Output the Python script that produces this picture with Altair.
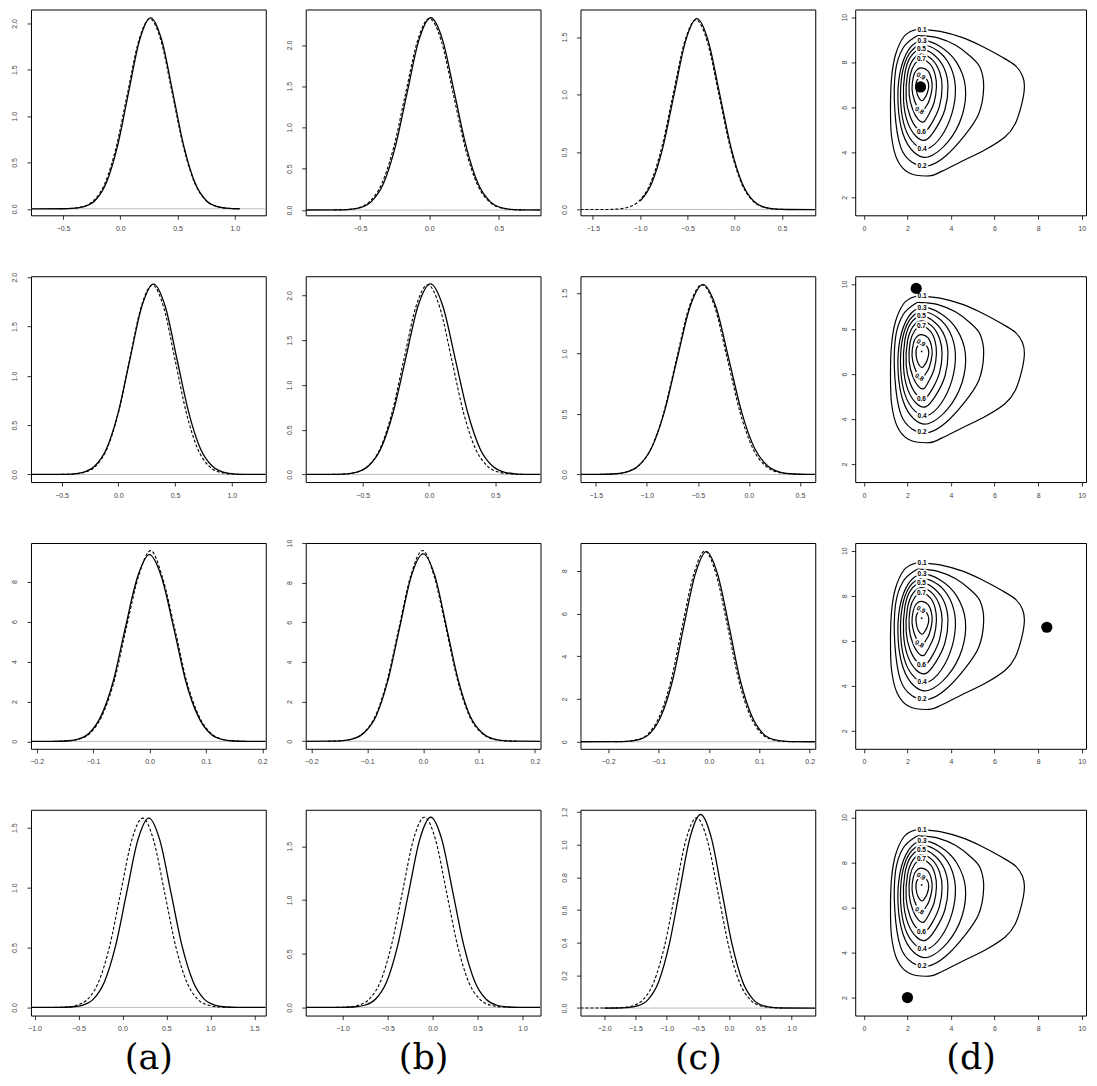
import altair as alt
import pandas as pd

# ------------------------------------------------------------------ density panels
# row 1
A1_X_DOMAIN = [-0.78, 1.27]
A1_Y_DOMAIN = [-0.07, 2.15]
A1_X_TICKS = [-0.5, 0.0, 0.5, 1.0]
A1_Y_TICKS = [0.0, 0.5, 1.0, 1.5, 2.0]
A1_SOLID_X = [-0.78, -0.511, -0.414, -0.317, -0.220, -0.123, -0.026, 0.071, 0.168, 0.265, 0.362, 0.459, 0.556, 0.653, 0.750, 0.847, 0.944, 1.041]
A1_SOLID_Y = [0.0, 0.0006, 0.0045, 0.023, 0.090, 0.279, 0.669, 1.249, 1.818, 2.06, 1.818, 1.249, 0.669, 0.279, 0.090, 0.023, 0.0045, 0.0006]
A1_DASH_X = [-0.526, -0.428, -0.330, -0.232, -0.134, -0.036, 0.062, 0.160, 0.258, 0.356, 0.454, 0.552, 0.650, 0.748, 0.846, 0.944, 1.042]
A1_DASH_Y = [0.0006, 0.0045, 0.023, 0.090, 0.277, 0.666, 1.243, 1.809, 2.05, 1.809, 1.243, 0.666, 0.277, 0.090, 0.023, 0.0045, 0.0006]

B1_X_DOMAIN = [-0.89, 0.80]
B1_Y_DOMAIN = [-0.064, 2.43]
B1_X_TICKS = [-0.5, 0.0, 0.5]
B1_Y_TICKS = [0.0, 0.5, 1.0, 1.5, 2.0]
B1_SOLID_X = [-0.89, -0.674, -0.589, -0.503, -0.418, -0.332, -0.247, -0.161, -0.076, 0.010, 0.096, 0.181, 0.267, 0.352, 0.438, 0.523, 0.609, 0.694, 0.80]
B1_SOLID_Y = [0.0, 0.0007, 0.005, 0.026, 0.102, 0.315, 0.757, 1.413, 2.056, 2.33, 2.056, 1.413, 0.757, 0.315, 0.102, 0.026, 0.005, 0.0007, 0.0]
B1_DASH_X = [-0.688, -0.602, -0.516, -0.430, -0.344, -0.258, -0.172, -0.086, 0.0, 0.086, 0.172, 0.258, 0.344, 0.430, 0.516, 0.602, 0.688]
B1_DASH_Y = [0.0007, 0.005, 0.026, 0.102, 0.314, 0.753, 1.407, 2.047, 2.32, 2.047, 1.407, 0.753, 0.314, 0.102, 0.026, 0.005, 0.0007]

C1_X_DOMAIN = [-1.63, 0.85]
C1_Y_DOMAIN = [-0.05, 1.74]
C1_X_TICKS = [-1.5, -1.0, -0.5, 0.0, 0.5]
C1_Y_TICKS = [0.0, 0.5, 1.0, 1.5]
C1_SOLID_X = [-1.00, -0.88, -0.76, -0.64, -0.52, -0.40, -0.28, -0.16, -0.04, 0.08, 0.20, 0.32, 0.44, 0.56, 0.85]
C1_SOLID_Y = [0.073, 0.225, 0.539, 1.007, 1.465, 1.66, 1.465, 1.007, 0.539, 0.225, 0.073, 0.018, 0.0037, 0.0005, 0.0]
C1_DASH_X = [-1.63, -1.378, -1.257, -1.136, -1.015, -0.894, -0.773, -0.652, -0.531, -0.410, -0.289, -0.168, -0.047, 0.074, 0.195, 0.316, 0.437, 0.558]
C1_DASH_Y = [0.0, 0.0005, 0.0036, 0.018, 0.072, 0.223, 0.536, 1.001, 1.456, 1.65, 1.456, 1.001, 0.536, 0.223, 0.072, 0.018, 0.0036, 0.0005]

# row 2
A2_X_DOMAIN = [-0.77, 1.30]
A2_Y_DOMAIN = [-0.077, 2.01]
A2_X_TICKS = [-0.5, 0.0, 0.5, 1.0]
A2_Y_TICKS = [0.0, 0.5, 1.0, 1.5, 2.0]
A2_SOLID_X = [-0.77, -0.518, -0.415, -0.311, -0.208, -0.104, -0.001, 0.103, 0.207, 0.310, 0.414, 0.517, 0.621, 0.724, 0.828, 0.931, 1.035, 1.138, 1.30]
A2_SOLID_Y = [0.0, 0.0006, 0.0042, 0.021, 0.085, 0.261, 0.627, 1.171, 1.703, 1.93, 1.703, 1.171, 0.627, 0.261, 0.085, 0.021, 0.0042, 0.0006, 0.0]
A2_DASH_X = [-0.50, -0.40, -0.30, -0.20, -0.10, 0.00, 0.10, 0.20, 0.30, 0.40, 0.50, 0.60, 0.70, 0.80, 0.90, 1.00, 1.10]
A2_DASH_Y = [0.0006, 0.0042, 0.021, 0.084, 0.260, 0.623, 1.164, 1.694, 1.92, 1.694, 1.164, 0.623, 0.260, 0.084, 0.021, 0.0042, 0.0006]

B2_X_DOMAIN = [-0.93, 0.84]
B2_Y_DOMAIN = [-0.085, 2.215]
B2_X_TICKS = [-0.5, 0.0, 0.5]
B2_Y_TICKS = [0.0, 0.5, 1.0, 1.5, 2.0]
B2_SOLID_X = [-0.93, -0.738, -0.645, -0.551, -0.458, -0.364, -0.271, -0.177, -0.084, 0.010, 0.104, 0.197, 0.291, 0.384, 0.478, 0.571, 0.665, 0.758, 0.84]
B2_SOLID_Y = [0.0, 0.0006, 0.0047, 0.024, 0.094, 0.288, 0.692, 1.292, 1.880, 2.13, 1.880, 1.292, 0.692, 0.288, 0.094, 0.024, 0.0047, 0.0006, 0.0]
B2_DASH_X = [-0.73, -0.64, -0.55, -0.46, -0.37, -0.28, -0.19, -0.10, -0.01, 0.08, 0.17, 0.26, 0.35, 0.44, 0.53, 0.62, 0.71]
B2_DASH_Y = [0.0006, 0.0047, 0.024, 0.093, 0.287, 0.688, 1.286, 1.871, 2.12, 1.871, 1.286, 0.688, 0.287, 0.093, 0.024, 0.0047, 0.0006]

C2_X_DOMAIN = [-1.65, 0.65]
C2_Y_DOMAIN = [-0.063, 1.64]
C2_X_TICKS = [-1.5, -1.0, -0.5, 0.0, 0.5]
C2_Y_TICKS = [0.0, 0.5, 1.0, 1.5]
C2_SOLID_X = [-1.65, -1.466, -1.339, -1.212, -1.085, -0.958, -0.831, -0.704, -0.577, -0.450, -0.323, -0.196, -0.069, 0.058, 0.185, 0.312, 0.439, 0.566, 0.65]
C2_SOLID_Y = [0.0, 0.0005, 0.0035, 0.017, 0.069, 0.212, 0.510, 0.952, 1.386, 1.57, 1.386, 0.952, 0.510, 0.212, 0.069, 0.017, 0.0035, 0.0005, 0.0]
C2_DASH_X = [-1.460, -1.335, -1.210, -1.085, -0.960, -0.835, -0.710, -0.585, -0.460, -0.335, -0.210, -0.085, 0.040, 0.165, 0.290, 0.415, 0.540]
C2_DASH_Y = [0.0005, 0.0035, 0.017, 0.069, 0.212, 0.510, 0.952, 1.386, 1.57, 1.386, 0.952, 0.510, 0.212, 0.069, 0.017, 0.0035, 0.0005]

# row 3
A3_X_DOMAIN = [-0.21, 0.206]
A3_Y_DOMAIN = [-0.37, 9.93]
A3_X_TICKS = [-0.2, -0.1, 0.0, 0.1, 0.2]
A3_Y_TICKS = [0, 2, 4, 6, 8]
A3_SOLID_X = [-0.21, -0.171, -0.150, -0.128, -0.107, -0.086, -0.064, -0.043, -0.021, 0.0, 0.021, 0.043, 0.064, 0.086, 0.107, 0.128, 0.150, 0.171, 0.206]
A3_SOLID_Y = [0.0, 0.003, 0.021, 0.104, 0.410, 1.265, 3.036, 5.671, 8.251, 9.35, 8.251, 5.671, 3.036, 1.265, 0.410, 0.104, 0.021, 0.003, 0.0]
A3_DASH_X = [-0.169, -0.148, -0.126, -0.105, -0.084, -0.062, -0.041, -0.019, 0.002, 0.023, 0.045, 0.066, 0.088, 0.109, 0.130, 0.152, 0.173]
A3_DASH_Y = [0.003, 0.021, 0.106, 0.42, 1.29, 3.08, 5.70, 8.30, 9.55, 8.20, 5.62, 3.00, 1.25, 0.40, 0.10, 0.02, 0.003]

B3_X_DOMAIN = [-0.21, 0.21]
B3_Y_DOMAIN = [-0.38, 10.0]
B3_X_TICKS = [-0.2, -0.1, 0.0, 0.1, 0.2]
B3_Y_TICKS = [0, 2, 4, 6, 8, 10]
B3_SOLID_X = [-0.21, -0.169, -0.148, -0.127, -0.106, -0.084, -0.063, -0.042, -0.021, 0.0, 0.021, 0.042, 0.063, 0.084, 0.106, 0.127, 0.148, 0.169, 0.21]
B3_SOLID_Y = [0.0, 0.003, 0.021, 0.105, 0.415, 1.279, 3.068, 5.731, 8.340, 9.45, 8.340, 5.731, 3.068, 1.279, 0.415, 0.105, 0.021, 0.003, 0.0]
B3_DASH_X = [-0.170, -0.149, -0.128, -0.107, -0.085, -0.064, -0.043, -0.022, -0.001, 0.020, 0.041, 0.062, 0.083, 0.105, 0.126, 0.147, 0.168]
B3_DASH_Y = [0.003, 0.021, 0.106, 0.42, 1.30, 3.10, 5.76, 8.36, 9.62, 8.30, 5.70, 3.04, 1.26, 0.41, 0.10, 0.02, 0.003]

C3_X_DOMAIN = [-0.255, 0.211]
C3_Y_DOMAIN = [-0.33, 9.3]
C3_X_TICKS = [-0.2, -0.1, 0.0, 0.1, 0.2]
C3_Y_TICKS = [0, 2, 4, 6, 8]
C3_SOLID_X = [-0.255, -0.184, -0.162, -0.139, -0.117, -0.095, -0.072, -0.050, -0.027, -0.005, 0.017, 0.040, 0.062, 0.085, 0.107, 0.129, 0.152, 0.174, 0.211]
C3_SOLID_Y = [0.0, 0.003, 0.020, 0.099, 0.391, 1.204, 2.890, 5.398, 7.854, 8.9, 7.854, 5.398, 2.890, 1.204, 0.391, 0.099, 0.020, 0.003, 0.0]
C3_DASH_X = [-0.187, -0.165, -0.142, -0.120, -0.098, -0.075, -0.053, -0.030, -0.008, 0.014, 0.037, 0.059, 0.082, 0.104, 0.126, 0.149, 0.171]
C3_DASH_Y = [0.003, 0.020, 0.099, 0.391, 1.204, 2.890, 5.398, 7.854, 8.92, 7.854, 5.398, 2.890, 1.204, 0.391, 0.099, 0.020, 0.003]

# row 4
A4_X_DOMAIN = [-1.04, 1.63]
A4_Y_DOMAIN = [-0.068, 1.65]
A4_X_TICKS = [-1.0, -0.5, 0.0, 0.5, 1.0, 1.5]
A4_Y_TICKS = [0.0, 0.5, 1.0, 1.5]
A4_SOLID_X = [-1.04, -0.708, -0.582, -0.456, -0.330, -0.204, -0.078, 0.048, 0.174, 0.300, 0.426, 0.552, 0.678, 0.804, 0.930, 1.056, 1.182, 1.308, 1.63]
A4_SOLID_Y = [0.0, 0.0005, 0.0035, 0.018, 0.069, 0.214, 0.513, 0.958, 1.394, 1.58, 1.394, 0.958, 0.513, 0.214, 0.069, 0.018, 0.0035, 0.0005, 0.0]
A4_DASH_X = [-0.770, -0.645, -0.520, -0.395, -0.270, -0.145, -0.020, 0.105, 0.230, 0.355, 0.480, 0.605, 0.730, 0.855, 0.980, 1.105, 1.230]
A4_DASH_Y = [0.0005, 0.0035, 0.018, 0.069, 0.214, 0.513, 0.958, 1.394, 1.58, 1.394, 0.958, 0.513, 0.214, 0.069, 0.018, 0.0035, 0.0005]

B4_X_DOMAIN = [-1.41, 1.20]
B4_Y_DOMAIN = [-0.076, 1.84]
B4_X_TICKS = [-1.0, -0.5, 0.0, 0.5, 1.0]
B4_Y_TICKS = [0.0, 0.5, 1.0, 1.5]
B4_SOLID_X = [-1.41, -1.000, -0.878, -0.755, -0.633, -0.510, -0.388, -0.265, -0.143, -0.020, 0.103, 0.225, 0.348, 0.470, 0.593, 0.715, 0.838, 0.960, 1.20]
B4_SOLID_Y = [0.0, 0.0005, 0.0039, 0.020, 0.078, 0.239, 0.575, 1.074, 1.562, 1.77, 1.562, 1.074, 0.575, 0.239, 0.078, 0.020, 0.0039, 0.0005, 0.0]
B4_DASH_X = [-1.070, -0.948, -0.825, -0.703, -0.580, -0.458, -0.335, -0.213, -0.090, 0.033, 0.155, 0.278, 0.400, 0.523, 0.645, 0.768, 0.890]
B4_DASH_Y = [0.0005, 0.0039, 0.020, 0.078, 0.239, 0.575, 1.074, 1.562, 1.77, 1.562, 1.074, 0.575, 0.239, 0.078, 0.020, 0.0039, 0.0005]

C4_X_DOMAIN = [-2.38, 1.38]
C4_Y_DOMAIN = [-0.046, 1.214]
C4_X_TICKS = [-2.0, -1.5, -1.0, -0.5, 0.0, 0.5, 1.0]
C4_Y_TICKS = [0.0, 0.2, 0.4, 0.6, 0.8, 1.0, 1.2]
C4_SOLID_X = [-2.00, -1.803, -1.635, -1.466, -1.298, -1.129, -0.961, -0.792, -0.624, -0.455, -0.287, -0.118, 0.051, 0.219, 0.388, 0.556, 0.725, 0.893, 1.38]
C4_SOLID_Y = [0.0, 0.0004, 0.0026, 0.013, 0.052, 0.160, 0.385, 0.719, 1.046, 1.185, 1.046, 0.719, 0.385, 0.160, 0.052, 0.013, 0.0026, 0.0004, 0.0]
C4_DASH_X = [-2.38, -1.892, -1.721, -1.549, -1.378, -1.206, -1.035, -0.863, -0.692, -0.520, -0.349, -0.177, -0.006, 0.166, 0.338, 0.509, 0.681, 0.852]
C4_DASH_Y = [0.0, 0.0003, 0.0026, 0.013, 0.051, 0.158, 0.378, 0.707, 1.028, 1.165, 1.028, 0.707, 0.378, 0.158, 0.051, 0.013, 0.0026, 0.0003]

# ------------------------------------------------------------------ contour panels
D_X_DOMAIN = [-0.4, 10.2]
D_Y_DOMAIN = [1.2, 10.34]
D_X_TICKS = [0, 2, 4, 6, 8, 10]
D_Y_TICKS = [2, 4, 6, 8, 10]

LEVEL_01_X = [2.67, 3.50, 4.50, 5.40, 6.30, 6.95, 7.28, 7.37, 7.25, 6.95, 6.49, 5.57, 4.50, 3.59, 3.00, 2.06, 1.53, 1.27, 1.22, 1.27, 1.45, 1.83, 2.29]
LEVEL_01_Y = [9.45, 9.37, 9.10, 8.72, 8.25, 7.85, 7.40, 6.90, 6.15, 5.27, 4.69, 4.11, 3.60, 3.16, 2.95, 3.09, 3.67, 4.69, 6.00, 7.31, 8.33, 9.13, 9.42]
LEVEL_02_X = [2.65, 3.40, 4.20, 4.90, 5.34, 5.50, 5.27, 4.58, 3.74, 3.00, 2.21, 1.68, 1.42, 1.45, 1.79, 2.37]
LEVEL_02_Y = [9.17, 9.08, 8.76, 8.25, 7.75, 6.87, 5.70, 4.69, 3.82, 3.41, 3.56, 4.25, 5.85, 7.60, 8.62, 9.13]
LEVEL_03_X = [2.65, 3.50, 4.25, 4.66, 4.50, 3.85, 2.95, 2.30, 1.80, 1.57, 1.65, 2.05]
LEVEL_03_Y = [8.95, 8.70, 8.00, 6.90, 5.60, 4.45, 3.79, 4.00, 4.80, 6.10, 7.50, 8.55]
LEVEL_04_X = [2.65, 3.40, 3.95, 4.20, 4.05, 3.55, 2.90, 2.35, 1.90, 1.69, 1.76, 2.10]
LEVEL_04_Y = [8.76, 8.50, 7.85, 6.90, 5.75, 4.70, 4.15, 4.35, 5.05, 6.20, 7.50, 8.40]
LEVEL_05_X = [2.65, 3.25, 3.70, 3.86, 3.72, 3.30, 2.85, 2.40, 2.00, 1.82, 1.88, 2.15]
LEVEL_05_Y = [8.57, 8.30, 7.70, 6.90, 5.90, 5.05, 4.55, 4.70, 5.35, 6.30, 7.50, 8.25]
LEVEL_06_X = [2.65, 3.15, 3.48, 3.59, 3.47, 3.15, 2.80, 2.45, 2.12, 1.94, 2.00, 2.25]
LEVEL_06_Y = [8.36, 8.10, 7.55, 6.90, 6.05, 5.35, 4.91, 5.05, 5.60, 6.40, 7.45, 8.10]
LEVEL_07_X = [2.65, 3.05, 3.27, 3.33, 3.22, 2.98, 2.75, 2.50, 2.24, 2.08, 2.12, 2.33]
LEVEL_07_Y = [8.14, 7.90, 7.45, 6.90, 6.20, 5.68, 5.35, 5.45, 5.90, 6.55, 7.40, 7.92]
LEVEL_08_X = [2.65, 2.95, 3.10, 3.13, 3.00, 2.83, 2.70, 2.50, 2.32, 2.21, 2.27, 2.42]
LEVEL_08_Y = [7.75, 7.60, 7.25, 6.85, 6.30, 6.00, 5.85, 5.95, 6.30, 6.80, 7.35, 7.65]
LEVEL_09_X = [2.65, 2.88, 2.98, 2.90, 2.75, 2.65, 2.50, 2.40, 2.42]
LEVEL_09_Y = [7.38, 7.25, 6.95, 6.60, 6.35, 6.29, 6.45, 6.80, 7.15]

LABEL_TEXT = ["0.1", "0.3", "0.5", "0.7", "0.9", "0.8", "0.6", "0.4", "0.2"]
LABEL_X = [2.67, 2.67, 2.64, 2.64, 2.62, 2.55, 2.64, 2.67, 2.67]
LABEL_Y = [9.45, 8.95, 8.57, 8.14, 7.38, 5.85, 4.91, 4.15, 3.41]
LABEL_ANGLE = [0, 0, 0, 0, 30, 30, 0, 0, 0]

MODE_X = [2.65]
MODE_Y = [7.0]

POINT_X = [2.6, 2.4, 8.4, 2.0]
POINT_Y = [6.9, 9.8, 6.6, 2.0]

PANEL_TITLES = ["(a)", "(b)", "(c)", "(d)"]

# ------------------------------------------------------------------ building
W_DENS, W_CONT, H = 235, 231, 206


def line_df(xs, ys):
    return pd.DataFrame({"x": xs, "y": ys, "i": list(range(len(xs)))})


def density_panel(xdom, ydom, xticks, yticks, sx, sy, dx, dy, yfmt, title=None):
    xsc = alt.Scale(domain=xdom, nice=False, zero=False)
    ysc = alt.Scale(domain=ydom, nice=False, zero=False)
    xax = alt.Axis(values=xticks, format=".1f", title=title)
    yax = alt.Axis(values=yticks, format=yfmt, title=None)
    zero = alt.Chart(pd.DataFrame({"y": [0.0]})).mark_rule(
        color="#bdbdbd", strokeWidth=1
    ).encode(y=alt.Y("y:Q", scale=ysc, axis=yax))
    solid = alt.Chart(line_df(sx, sy)).mark_line(
        color="black", strokeWidth=1.3, interpolate="monotone", clip=True
    ).encode(
        x=alt.X("x:Q", scale=xsc, axis=xax),
        y=alt.Y("y:Q", scale=ysc, axis=yax),
        order="i:Q",
    )
    dashed = alt.Chart(line_df(dx, dy)).mark_line(
        color="black", strokeWidth=1.1, strokeDash=[3, 2], interpolate="monotone", clip=True
    ).encode(
        x=alt.X("x:Q", scale=xsc, axis=xax),
        y=alt.Y("y:Q", scale=ysc, axis=yax),
        order="i:Q",
    )
    return alt.layer(zero, solid, dashed).properties(width=W_DENS, height=H)


level_lists = [
    ("0.1", LEVEL_01_X, LEVEL_01_Y), ("0.2", LEVEL_02_X, LEVEL_02_Y),
    ("0.3", LEVEL_03_X, LEVEL_03_Y), ("0.4", LEVEL_04_X, LEVEL_04_Y),
    ("0.5", LEVEL_05_X, LEVEL_05_Y), ("0.6", LEVEL_06_X, LEVEL_06_Y),
    ("0.7", LEVEL_07_X, LEVEL_07_Y), ("0.8", LEVEL_08_X, LEVEL_08_Y),
    ("0.9", LEVEL_09_X, LEVEL_09_Y),
]
rows = []
for lev, xs, ys in level_lists:
    for i, (x, y) in enumerate(zip(xs, ys)):
        rows.append({"level": lev, "i": i, "x": x, "y": y})
contour_df = pd.DataFrame(rows)
label_df = pd.DataFrame({"t": LABEL_TEXT, "x": LABEL_X, "y": LABEL_Y, "ang": LABEL_ANGLE})
mode_df = pd.DataFrame({"x": MODE_X, "y": MODE_Y})


def contour_panel(k, title=None):
    xsc = alt.Scale(domain=D_X_DOMAIN, nice=False, zero=False)
    ysc = alt.Scale(domain=D_Y_DOMAIN, nice=False, zero=False)
    xax = alt.Axis(values=D_X_TICKS, format="d", title=title)
    yax = alt.Axis(values=D_Y_TICKS, format="d", title=None, labelPadding=4)
    X = alt.X("x:Q", scale=xsc, axis=xax)
    Y = alt.Y("y:Q", scale=ysc, axis=yax)
    lines = alt.Chart(contour_df).mark_line(
        color="black", strokeWidth=1.2, interpolate="cardinal-closed"
    ).encode(x=X, y=Y, detail="level:N", order="i:Q")
    halo = alt.Chart(label_df).mark_text(
        font="Liberation Sans", fontSize=6.5, fontWeight="bold", color="white",
        stroke="white", strokeWidth=3.5
    ).encode(x=X, y=Y, text="t:N", angle=alt.Angle("ang:Q", scale=None))
    text = alt.Chart(label_df).mark_text(
        font="Liberation Sans", fontSize=6.5, fontWeight="bold", color="black"
    ).encode(x=X, y=Y, text="t:N", angle=alt.Angle("ang:Q", scale=None))
    mode = alt.Chart(mode_df).mark_circle(size=3, color="black", opacity=1).encode(x=X, y=Y)
    pt = alt.Chart(pd.DataFrame({"x": [POINT_X[k]], "y": [POINT_Y[k]]})).mark_circle(
        size=125, color="black", opacity=1
    ).encode(x=X, y=Y)
    return alt.layer(lines, halo, text, mode, pt).properties(width=W_CONT, height=H)


panels = [
    density_panel(A1_X_DOMAIN, A1_Y_DOMAIN, A1_X_TICKS, A1_Y_TICKS, A1_SOLID_X, A1_SOLID_Y, A1_DASH_X, A1_DASH_Y, ".1f"),
    density_panel(B1_X_DOMAIN, B1_Y_DOMAIN, B1_X_TICKS, B1_Y_TICKS, B1_SOLID_X, B1_SOLID_Y, B1_DASH_X, B1_DASH_Y, ".1f"),
    density_panel(C1_X_DOMAIN, C1_Y_DOMAIN, C1_X_TICKS, C1_Y_TICKS, C1_SOLID_X, C1_SOLID_Y, C1_DASH_X, C1_DASH_Y, ".1f"),
    contour_panel(0),
    density_panel(A2_X_DOMAIN, A2_Y_DOMAIN, A2_X_TICKS, A2_Y_TICKS, A2_SOLID_X, A2_SOLID_Y, A2_DASH_X, A2_DASH_Y, ".1f"),
    density_panel(B2_X_DOMAIN, B2_Y_DOMAIN, B2_X_TICKS, B2_Y_TICKS, B2_SOLID_X, B2_SOLID_Y, B2_DASH_X, B2_DASH_Y, ".1f"),
    density_panel(C2_X_DOMAIN, C2_Y_DOMAIN, C2_X_TICKS, C2_Y_TICKS, C2_SOLID_X, C2_SOLID_Y, C2_DASH_X, C2_DASH_Y, ".1f"),
    contour_panel(1),
    density_panel(A3_X_DOMAIN, A3_Y_DOMAIN, A3_X_TICKS, A3_Y_TICKS, A3_SOLID_X, A3_SOLID_Y, A3_DASH_X, A3_DASH_Y, "d"),
    density_panel(B3_X_DOMAIN, B3_Y_DOMAIN, B3_X_TICKS, B3_Y_TICKS, B3_SOLID_X, B3_SOLID_Y, B3_DASH_X, B3_DASH_Y, "d"),
    density_panel(C3_X_DOMAIN, C3_Y_DOMAIN, C3_X_TICKS, C3_Y_TICKS, C3_SOLID_X, C3_SOLID_Y, C3_DASH_X, C3_DASH_Y, "d"),
    contour_panel(2),
    density_panel(A4_X_DOMAIN, A4_Y_DOMAIN, A4_X_TICKS, A4_Y_TICKS, A4_SOLID_X, A4_SOLID_Y, A4_DASH_X, A4_DASH_Y, ".1f", PANEL_TITLES[0]),
    density_panel(B4_X_DOMAIN, B4_Y_DOMAIN, B4_X_TICKS, B4_Y_TICKS, B4_SOLID_X, B4_SOLID_Y, B4_DASH_X, B4_DASH_Y, ".1f", PANEL_TITLES[1]),
    density_panel(C4_X_DOMAIN, C4_Y_DOMAIN, C4_X_TICKS, C4_Y_TICKS, C4_SOLID_X, C4_SOLID_Y, C4_DASH_X, C4_DASH_Y, ".1f", PANEL_TITLES[2]),
    contour_panel(3, PANEL_TITLES[3]),
]

chart = alt.concat(
    *panels, columns=4, spacing={"row": 61, "column": 40}, bounds="flush"
).properties(
    padding={"left": 2, "top": 0, "right": 2, "bottom": 0}
).configure_view(
    stroke="black", strokeWidth=1
).configure_axis(
    domain=False, grid=False, ticks=True, tickColor="black", tickSize=4, tickWidth=0.8,
    labelFont="Liberation Sans", labelFontSize=7, labelColor="#444",
    labelFlush=False, labelOverlap=False,
    titleFont="DejaVu Serif", titleFontSize=35, titleFontWeight="normal",
    titleColor="black", titlePadding=9,
).configure_axisX(
    labelPadding=5
).configure_axisY(
    labelAngle=270, labelAlign="center", labelBaseline="bottom", labelPadding=9
)

chart.save("out.html", embed_options={"renderer": "svg", "actions": False})
